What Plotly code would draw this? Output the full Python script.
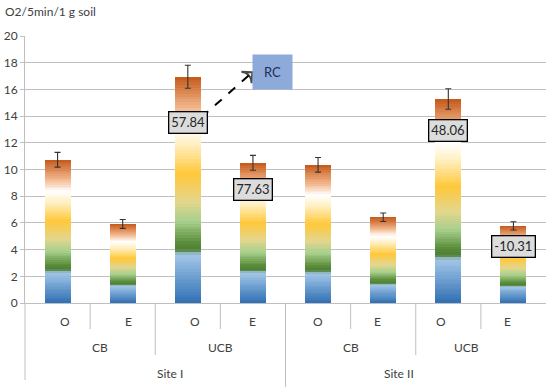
import plotly.graph_objects as go
from plotly.colors import sample_colorscale

# ---- data ----
treatment = ["O", "E", "O", "E", "O", "E", "O", "E"]
group = ["CB", "UCB", "CB", "UCB"]
site = ["Site I", "Site II"]
values = [10.73, 5.92, 16.95, 10.5, 10.35, 6.42, 15.28, 5.78]
errors = [0.55, 0.33, 0.86, 0.56, 0.55, 0.32, 0.77, 0.31]
box_labels = ["", "", "57.84", "77.63", "", "", "48.06", "-10.31"]
box_y = [None, None, 13.52, 8.5, None, None, 12.94, 4.23]
y_title = "O2/5min/1 g soil"
y_ticks = [0, 2, 4, 6, 8, 10, 12, 14, 16, 18, 20]

FONT = "Lato, Calibri, Carlito, sans-serif"
TXT = "#404040"
GRID = "#bfbfbf"

# vertical gradient (fraction of bar height -> colour)
gradient = [
    [0.0, "#2f6fb3"],
    [0.20, "#9cc2e5"],
    [0.215, "#a0c4e4"],
    [0.235, "#4e7e30"],
    [0.27, "#5c8f3c"],
    [0.36, "#a8d08d"],
    [0.45, "#e4d68c"],
    [0.57, "#ffc83a"],
    [0.70, "#ffefc0"],
    [0.78, "#ffffff"],
    [0.86, "#f3b98f"],
    [1.0, "#c4591a"],
]

x = list(range(len(values)))
fig = go.Figure()

N = 80
for k in range(N, 0, -1):
    f = k / N
    col = sample_colorscale(gradient, [(k - 0.5) / N])[0]
    fig.add_trace(go.Bar(
        x=x, y=[v * f for v in values], width=0.4,
        marker=dict(color=col, line=dict(width=0)),
        showlegend=False, hoverinfo="skip",
    ))

fig.add_trace(go.Scatter(
    x=x, y=values, mode="markers",
    marker=dict(size=1, opacity=0),
    error_y=dict(type="data", array=errors, visible=True,
                 color="#333333", thickness=1.1, width=3),
    showlegend=False,
))

# dashed arrow from the 57.84 label to the RC box
fig.add_trace(go.Scatter(
    x=[2.21, 2.99], y=[13.91, 17.28], mode="lines+markers",
    line=dict(color="black", width=2, dash="dash"),
    marker=dict(symbol=["circle", "arrow-wide-open"], size=[0, 11],
                angleref="previous", color="black",
                line=dict(color="black", width=2)),
    showlegend=False, hoverinfo="skip",
))

annotations = []
for i, (lab, yy) in enumerate(zip(box_labels, box_y)):
    if lab:
        annotations.append(dict(
            x=i, y=yy, xref="x", yref="y", text=lab, showarrow=False,
            font=dict(family=FONT, size=13, color="#262626"),
            bgcolor="#dcdcdc", bordercolor="#000000", borderwidth=1.3,
            borderpad=2,
        ))
# RC box
annotations.append(dict(
    x=3.3, y=17.33, xref="x", yref="y", text="RC", showarrow=False,
    font=dict(family=FONT, size=13, color="#1f2f4f"),
    bgcolor="#8eaadb", width=37, height=32,
))

plot_h = 267.0
ncat = len(values)

def px(b):
    return (b + 0.5) / ncat

# level 1 labels
for i, t in enumerate(treatment):
    annotations.append(dict(x=px(i), y=-18 / plot_h, xref="paper", yref="paper",
                            text=t, showarrow=False, yanchor="middle",
                            font=dict(family=FONT, size=12, color=TXT)))
# level 2 labels
for j, g in enumerate(group):
    annotations.append(dict(x=px(2 * j + 0.5), y=-44 / plot_h, xref="paper", yref="paper",
                            text=g, showarrow=False, yanchor="middle",
                            font=dict(family=FONT, size=12, color=TXT)))
# level 3 labels
for s, name in enumerate(site):
    annotations.append(dict(x=px(4 * s + 1.5), y=-70 / plot_h, xref="paper", yref="paper",
                            text=name, showarrow=False, yanchor="middle",
                            font=dict(family=FONT, size=12, color=TXT)))
# y title
annotations.append(dict(x=0, y=1, xref="paper", yref="paper", text=y_title,
                        showarrow=False, xanchor="left", yanchor="middle",
                        xshift=-22, yshift=25,
                        font=dict(family=FONT, size=12, color=TXT)))

shapes = []
for b in range(ncat):
    if b == 0:
        length = 77
    elif b == 4:
        length = 84
    elif b % 2 == 0:
        length = 52
    else:
        length = 26
    xp = b / ncat
    shapes.append(dict(type="line", xref="paper", yref="paper",
                       x0=xp, x1=xp, y0=0, y1=-length / plot_h,
                       line=dict(color=GRID, width=1)))

fig.update_layout(
    width=550, height=387,
    margin=dict(l=25, r=4, t=36, b=84, autoexpand=False),
    paper_bgcolor="white", plot_bgcolor="white",
    barmode="overlay", bargap=0,
    annotations=annotations, shapes=shapes,
    font=dict(family=FONT, size=12, color=TXT),
    xaxis=dict(range=[-0.5, 7.5], showticklabels=False, showgrid=False,
               zeroline=False, showline=True, linecolor=GRID, linewidth=1,
               ticks="", automargin=False),
    yaxis=dict(range=[0, 20], tickvals=y_ticks, showgrid=True, gridcolor=GRID,
               gridwidth=1, zeroline=False, showline=True, linecolor=GRID,
               linewidth=1, ticks="outside", ticklen=4, tickcolor=GRID,
               automargin=False,
               tickfont=dict(family=FONT, size=12, color=TXT)),
)

fig.write_html("out.html",
               config={"displayModeBar": False},
               post_script="document.body.style.margin='0';document.body.style.padding='0';")
